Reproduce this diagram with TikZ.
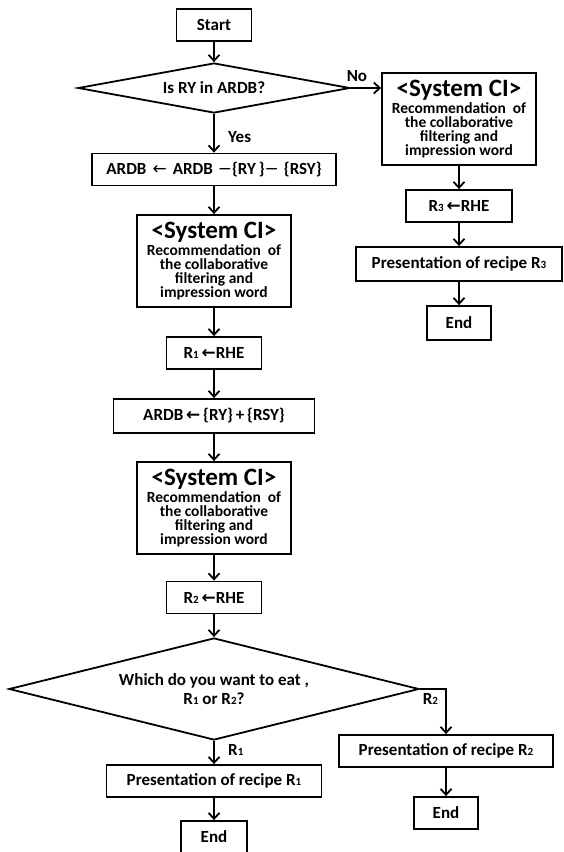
\documentclass[tikz,border=0pt]{standalone}
\usepackage{fontspec}
\setmainfont{Carlito}
\newfontfamily\symfont{DejaVu Sans}
\usetikzlibrary{shapes.geometric, arrows.meta}
\newcommand{\rn}[1]{R{\fontsize{11}{11}\selectfont #1}}

\begin{document}
\begin{tikzpicture}[node distance=60pt, x=1pt, y=-1pt, font=\bfseries\fontsize{17}{19}\selectfont]
\tikzstyle{startstop} = [rectangle, minimum width=66pt, minimum height=32pt, inner sep=0pt, text centered, draw=black, line width=1.8pt]
\tikzstyle{process} = [rectangle, minimum width=95pt, minimum height=32pt, inner sep=0pt, text centered, draw=black, line width=1.8pt]
\tikzstyle{system} = [rectangle, minimum width=154pt, minimum height=92pt, inner sep=0pt, align=center, draw=black, line width=1.8pt, font=\bfseries\fontsize{15.5}{14}\selectfont]
\tikzstyle{decision} = [diamond, aspect=5, inner sep=0pt, align=center, draw=black, line width=1.8pt]
\tikzstyle{arrow} = [line width=1.8pt,->,>={Straight Barb[length=6pt,width=11pt]}]
\newcommand{\syscl}{{\fontsize{25}{25}\selectfont <System CI>}\\[2pt]
  Recommendation~ of\\ the collaborative\\ filtering and\\ impression word}
\useasboundingbox (0,0) rectangle (564,852);
 % main column
\node (start) [startstop, minimum width=75pt] at (214,25) {Start};
\node (dec1) [decision, minimum width=272pt, minimum height=50pt, below of=start, yshift=-3pt] {Is RY in ARDB?};
\node (del) [process, minimum width=244pt, below of=dec1, yshift=-21.5pt] {ARDB\hspace{6pt}{\symfont\mdseries ←}\hspace{6pt}ARDB\hspace{5pt}{\symfont\mdseries −}\{RY\,\}{\symfont\mdseries −}\hspace{5pt}\{RSY\}};
\node (sys2) [system, below of=del, yshift=-31.5pt] {\syscl};
\node (r1) [process, below of=sys2, yshift=-32pt] {\rn{1}\,{\symfont ←}RHE};
\node (add) [process, minimum width=201pt, minimum height=34pt, below of=r1, yshift=-3pt] {ARDB\,{\symfont ←}\,\{RY\}\,+\,\{RSY\}};
\node (sys3) [system, below of=add, yshift=-32pt] {\syscl};
\node (r2) [process, below of=sys3, yshift=-29.5pt] {\rn{2}\,{\symfont ←}RHE};
\node (dec2) [decision, aspect=4, minimum width=410pt, minimum height=102pt, below of=r2, yshift=-31.5pt] {Which do you want to eat ,\\ \rn{1} or \rn{2}?};
\node (pre1) [process, minimum width=215pt, below of=dec2, yshift=-32pt] {Presentation of recipe \rn{1}};
\node (end1) [startstop, below of=pre1, yshift=4pt] {End};
 % right column
\node (sys1) [system, right of=dec1, xshift=185pt, yshift=-31pt] {\syscl};
\node (r3) [process, minimum width=106pt, below of=sys1, yshift=-27pt] {\rn{3}\,{\symfont ←}RHE};
\node (pre3) [process, minimum width=206pt, minimum height=34pt, below of=r3, yshift=2pt] {Presentation of recipe \rn{3}};
\node (end3) [startstop, minimum width=64pt, minimum height=34pt, below of=pre3, yshift=1pt] {End};
\node (pre2) [process, minimum width=214pt, right of=dec2, xshift=172pt, yshift=-62pt] {Presentation of recipe \rn{2}};
\node (end2) [startstop, minimum width=64pt, below of=pre2, yshift=-2pt] {End};

 % connectors
\draw [arrow](start) -- (dec1);
\draw [arrow](dec1) -- node[right, pos=0.6, xshift=10pt] {Yes} (del);
\draw [arrow](dec1.east) -- node[above, pos=0.2, yshift=2pt] {No} (dec1.east -| sys1.west);
\draw [arrow](del) -- (sys2);
\draw [arrow](sys2) -- (r1);
\draw [arrow](r1) -- (add);
\draw [arrow](add) -- (sys3);
\draw [arrow](sys3) -- (r2);
\draw [arrow](r2) -- (dec2);
\draw [arrow](dec2) -- node[right, pos=0.4, xshift=10pt] {\rn{1}} (pre1);
\draw [arrow](pre1) -- (end1);
\draw [arrow](dec2.east) -| node[below, pos=0.2] {\rn{2}} (pre2.north);
\draw [arrow](pre2) -- (end2);
\draw [arrow](sys1) -- (r3);
\draw [arrow](r3) -- (pre3);
\draw [arrow](pre3) -- (end3);
\end{tikzpicture}
\end{document}
